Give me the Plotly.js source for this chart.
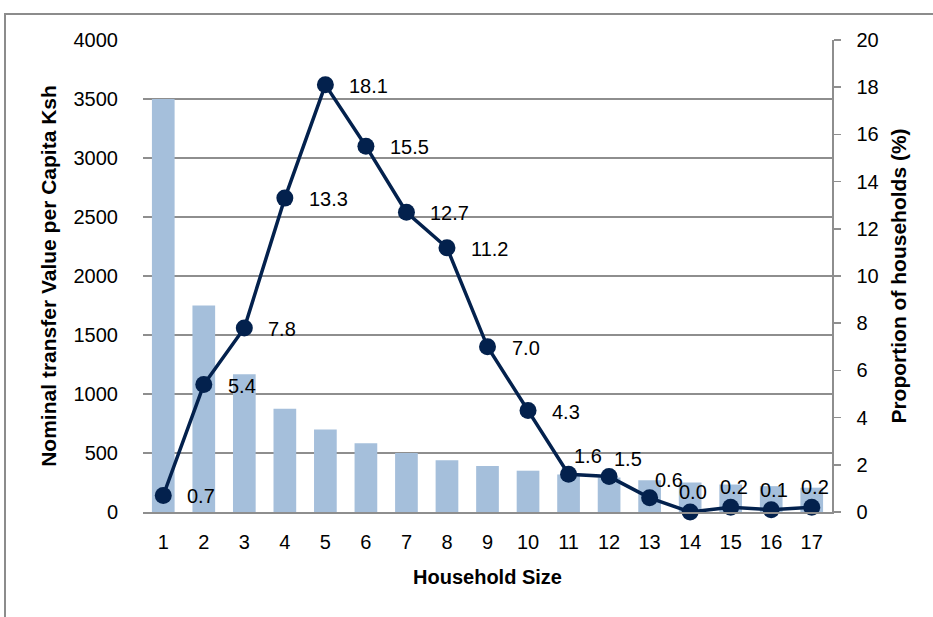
<!DOCTYPE html>
<html>
<head>
<meta charset="utf-8">
<script src="https://cdn.plot.ly/plotly-3.0.1.min.js"></script>
<style>
  html, body { margin: 0; padding: 0; background: #ffffff; overflow: hidden; }
  #frame { position: absolute; left: 4px; top: 13px; width: 960px; height: 640px;
           border-top: 2px solid #8c8c8c; border-left: 2px solid #8c8c8c; }
  #chart { position: absolute; left: 0; top: 0; width: 933px; height: 617px; }
</style>
</head>
<body>
<div id="frame"></div>
<div id="chart"></div>
<script>
const householdSize = [1, 2, 3, 4, 5, 6, 7, 8, 9, 10, 11, 12, 13, 14, 15, 16, 17];
const transferPerCapita = [3500, 1750, 1167, 875, 700, 583, 500, 438, 389, 350, 318, 292, 269, 250, 233, 219, 206];
const proportionHouseholds = [0.7, 5.4, 7.8, 13.3, 18.1, 15.5, 12.7, 11.2, 7.0, 4.3, 1.6, 1.5, 0.6, 0.0, 0.2, 0.1, 0.2];
const leftTicks = [0, 500, 1000, 1500, 2000, 2500, 3000, 3500, 4000];
const rightTicks = [0, 2, 4, 6, 8, 10, 12, 14, 16, 18, 20];

const fontFamily = '"Liberation Sans", Arial, sans-serif';
const gridColor = '#8e8e8e';
const lineColor = '#03214d';

// data-label placement style (in pixels, relative to each point)
function labelStyle(size) {
  if (size <= 10) return { xanchor: 'left', xshift: 22, yshift: -1 };
  if (size <= 13) return { xanchor: 'left', xshift: 3, yshift: 18 };
  return { xanchor: 'center', xshift: 3, yshift: 20 };
}

const annotations = householdSize.map(function (s, i) {
  const st = labelStyle(s);
  return {
    xref: 'x', yref: 'y2',
    x: s, y: proportionHouseholds[i],
    text: proportionHouseholds[i].toFixed(1),
    showarrow: false,
    xanchor: st.xanchor, yanchor: 'middle',
    xshift: st.xshift, yshift: st.yshift,
    font: { family: fontFamily, size: 20, color: '#000000' }
  };
});

const bars = {
  type: 'bar',
  x: householdSize,
  y: transferPerCapita,
  marker: { color: '#a5bfdb' },
  width: 0.56,
  hoverinfo: 'x+y',
  showlegend: false
};

const line = {
  type: 'scatter',
  mode: 'lines+markers',
  x: householdSize,
  y: proportionHouseholds,
  yaxis: 'y2',
  line: { color: lineColor, width: 3.5 },
  marker: { color: lineColor, size: 17 },
  cliponaxis: false,
  showlegend: false
};

const layout = {
  width: 933,
  height: 617,
  margin: { l: 143, r: 101, t: 39.5, b: 105, pad: 0 },
  paper_bgcolor: 'rgba(0,0,0,0)',
  plot_bgcolor: 'rgba(0,0,0,0)',
  font: { family: fontFamily, size: 20, color: '#000000' },
  annotations: annotations,
  xaxis: {
    range: [0.5, 17.5],
    tickmode: 'array',
    tickvals: householdSize,
    ticktext: householdSize.map(String),
    showgrid: false,
    zeroline: false,
    showline: true,
    linecolor: gridColor,
    linewidth: 1.5,
    ticks: '',
    ticklabelstandoff: 11,
    tickfont: { family: fontFamily, size: 20 },
    title: { text: 'Household Size', font: { family: fontFamily, size: 20, color: '#000000', weight: 'bold' }, standoff: 18 }
  },
  yaxis: {
    range: [0, 4000],
    tickmode: 'array',
    tickvals: leftTicks,
    ticktext: leftTicks.map(String),
    showgrid: true,
    gridcolor: gridColor,
    gridwidth: 1.5,
    zeroline: false,
    showline: false,
    ticks: '',
    ticklabelstandoff: 24,
    tickfont: { family: fontFamily, size: 20 },
    title: { text: 'Nominal transfer Value per Capita Ksh', font: { family: fontFamily, size: 21, color: '#000000', weight: 'bold' }, standoff: 11 }
  },
  yaxis2: {
    overlaying: 'y',
    side: 'right',
    range: [0, 20],
    tickmode: 'array',
    tickvals: rightTicks,
    ticktext: rightTicks.map(String),
    showgrid: false,
    zeroline: false,
    showline: true,
    linecolor: gridColor,
    linewidth: 1.5,
    ticks: 'outside',
    ticklen: 7,
    tickwidth: 1.5,
    tickcolor: gridColor,
    ticklabelstandoff: 12,
    tickfont: { family: fontFamily, size: 20 },
    title: { text: 'Proportion of households (%)', font: { family: fontFamily, size: 21, color: '#000000', weight: 'bold' }, standoff: 13 }
  }
};

Plotly.newPlot('chart', [bars, line], layout, { staticPlot: true, displayModeBar: false });
</script>
</body>
</html>
